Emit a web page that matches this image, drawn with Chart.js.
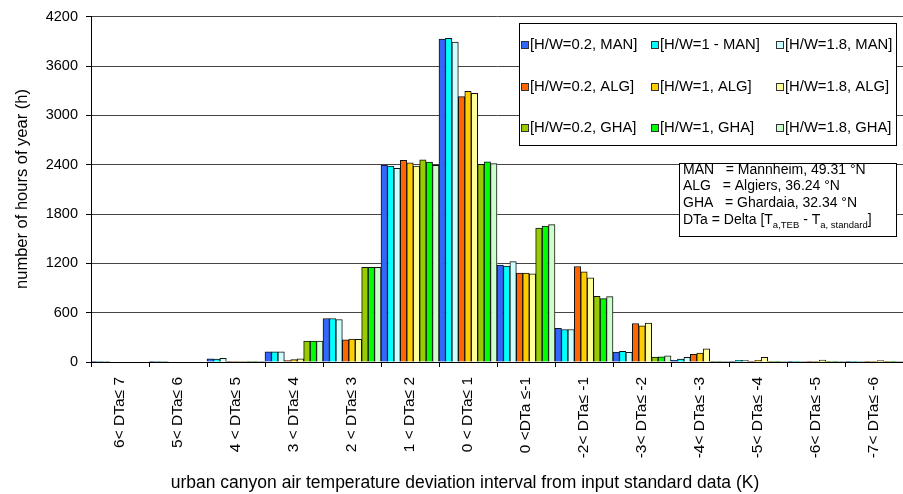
<!DOCTYPE html>
<html>
<head>
<meta charset="utf-8">
<title>urban canyon air temperature deviation</title>
<script src="https://cdn.jsdelivr.net/npm/chart.js@4.4.1/dist/chart.umd.min.js"></script>
<style>
  html, body { margin: 0; padding: 0; background: #fff; }
  #wrap { width: 903px; height: 494px; }
</style>
</head>
<body>
<div id="wrap"><canvas id="chart" width="903" height="494"></canvas></div>
<script>
"use strict";

// deviation intervals (x categories)
var categories = [
    "6< DTa\u2264 7", "5< DTa\u2264 6", "4 < DTa\u2264 5", "3 < DTa\u2264 4", "2 < DTa\u2264 3",
    "1 < DTa\u2264 2", "0 < DTa\u2264 1", "0 <DTa \u2264-1", "-2< DTa\u2264 -1", "-3< DTa\u2264 -2",
    "-4< DTa\u2264 -3", "-5< DTa\u2264 -4", "-6< DTa\u2264 -5", "-7< DTa\u2264 -6"
];

// hours per interval, one array per H/W ratio and site
var man02 = [5, 5, 40, 125, 529, 2396, 3929, 1178, 411, 121, 20, 5, 3, 3];
var man10 = [5, 5, 35, 125, 529, 2384, 3937, 1168, 395, 129, 36, 20, 3, 3];
var man18 = [5, 5, 46, 125, 517, 2356, 3892, 1220, 395, 117, 57, 20, 3, 3];
var alg02 = [0, 0, 5, 18, 270, 2452, 3227, 1081, 1162, 468, 93, 8, 3, 3];
var alg10 = [0, 0, 5, 28, 278, 2424, 3291, 1081, 1097, 440, 109, 20, 5, 3];
var alg18 = [0, 0, 5, 40, 275, 2384, 3267, 1073, 1025, 472, 161, 57, 22, 18];
var gha02 = [0, 0, 5, 255, 1150, 2460, 2404, 1630, 799, 60, 5, 3, 3, 3];
var gha10 = [0, 0, 5, 255, 1150, 2432, 2436, 1654, 770, 64, 5, 3, 3, 3];
var gha18 = [0, 0, 5, 255, 1150, 2392, 2412, 1670, 795, 76, 5, 3, 5, 8];

var seriesLabels = [
    "[H/W=0.2, MAN]", "[H/W=1 - MAN]", "[H/W=1.8, MAN]",
    "[H/W=0.2, ALG]", "[H/W=1, ALG]", "[H/W=1.8, ALG]",
    "[H/W=0.2, GHA]", "[H/W=1, GHA]", "[H/W=1.8, GHA]"
];
var seriesValues = [man02, man10, man18, alg02, alg10, alg18, gha02, gha10, gha18];
var seriesColors = [
    "#3366ff", "#00ffff", "#ccffff",
    "#ff6600", "#ffcc00", "#ffff99",
    "#99cc00", "#00ff00", "#ccffcc"
];

// y axis ticks
var yMin = 0, yMax = 4200, yStep = 600;

var xTitle = "urban canyon air temperature deviation interval from input standard data (K)";
var yTitle = "number of hours of year (h)";
var siteNotes = [
    "MAN   = Mannheim, 49.31 \u00b0N",
    "ALG   = Algiers, 36.24 \u00b0N",
    "GHA   = Ghardaia, 32.34 \u00b0N"
];

var FONT = "'Liberation Sans', Arial, sans-serif";


// legend, info box and axis titles drawn on top of the chart
var overlay = {
    id: "overlay",
    afterDraw: function(chart) {
        var ctx = chart.ctx;
        ctx.save();
        ctx.fillStyle = "#000";
        ctx.textBaseline = "middle";

        // axis titles
        ctx.textAlign = "center";
        ctx.font = "17.5px " + FONT;
        ctx.fillText(xTitle, 465, 483);

        ctx.save();
        ctx.translate(22, 189);
        ctx.rotate(-Math.PI / 2);
        ctx.font = "16.5px " + FONT;
        ctx.fillText(yTitle, 0, 0);
        ctx.restore();

        // legend box
        ctx.fillStyle = "#fff";
        ctx.fillRect(519, 23, 377, 122);
        ctx.strokeStyle = "#000";
        ctx.lineWidth = 1;
        ctx.strokeRect(519.5, 23.5, 377, 122);

        var cols = [521, 651, 776];
        var rows = [45, 87, 128];
        ctx.textAlign = "left";
        ctx.font = "14.8px " + FONT;
        chart.data.datasets.forEach(function(ds, i) {
            var x = cols[i % 3], y = rows[Math.floor(i / 3)];
            ctx.fillStyle = ds.backgroundColor;
            ctx.fillRect(x, y - 4, 8, 8);
            ctx.strokeStyle = "#333";
            ctx.strokeRect(x + 0.5, y - 3.5, 7, 7);
            ctx.fillStyle = "#000";
            ctx.fillText(ds.label, x + 9, y);
        });

        // site / symbol box
        ctx.fillStyle = "#fff";
        ctx.fillRect(679, 163, 218, 74);
        ctx.strokeStyle = "#000";
        ctx.strokeRect(679.5, 163.5, 217, 73);

        ctx.fillStyle = "#000";
        ctx.font = "14px " + FONT;
        var lineY = [170, 186, 203];
        siteNotes.forEach(function(t, i) {
            ctx.fillText(t, 683, lineY[i]);
        });

        // DTa = Delta [T a,TEB - T a, standard]
        var x = 683, y = 220;
        var parts = [
            ["DTa = Delta [T", false], ["a,TEB", true], [" - T", false],
            ["a, standard", true], ["]", false]
        ];
        parts.forEach(function(p) {
            ctx.font = (p[1] ? "9.5px " : "14px ") + FONT;
            ctx.fillText(p[0], x, p[1] ? y + 5 : y);
            x += ctx.measureText(p[0]).width;
        });

        ctx.restore();
    }
};


var l_datasets = seriesValues.map(function(v, i) {
    return {
        label: seriesLabels[i],
        data: v,
        backgroundColor: seriesColors[i],
        borderColor: "#111",
        borderWidth: 1,
        barPercentage: 1,
        categoryPercentage: 1
    };
});

new Chart(document.getElementById("chart"), {
    type: "bar",
    data: { labels: categories, datasets: l_datasets },
    plugins: [overlay],
    options: {
        responsive: false,
        animation: false,
        layout: { padding: { top: 15, right: 0, bottom: 0, left: 0 } },
        plugins: {
            legend: { display: false },
            tooltip: { enabled: false }
        },
        scales: {
            x: {
                grid: { offset: true, drawOnChartArea: false, tickLength: 5, color: "#000" },
                border: { color: "#000" },
                ticks: {
                    autoSkip: false, minRotation: 90, maxRotation: 90, padding: 10,
                    color: "#000", font: { family: FONT, size: 15.5 }
                },
                afterFit: function(s) { s.height = 132; }
            },
            y: {
                min: yMin,
                max: yMax,
                grid: { color: "#444", tickColor: "#000", tickLength: 5 },
                border: { color: "#000" },
                ticks: {
                    stepSize: yStep, padding: 8, color: "#000", font: { family: FONT, size: 14.5 },
                    callback: function(v) { return String(v); }
                },
                afterFit: function(s) { s.width = 91; }
            }
        }
    }
});
</script>
</body>
</html>
